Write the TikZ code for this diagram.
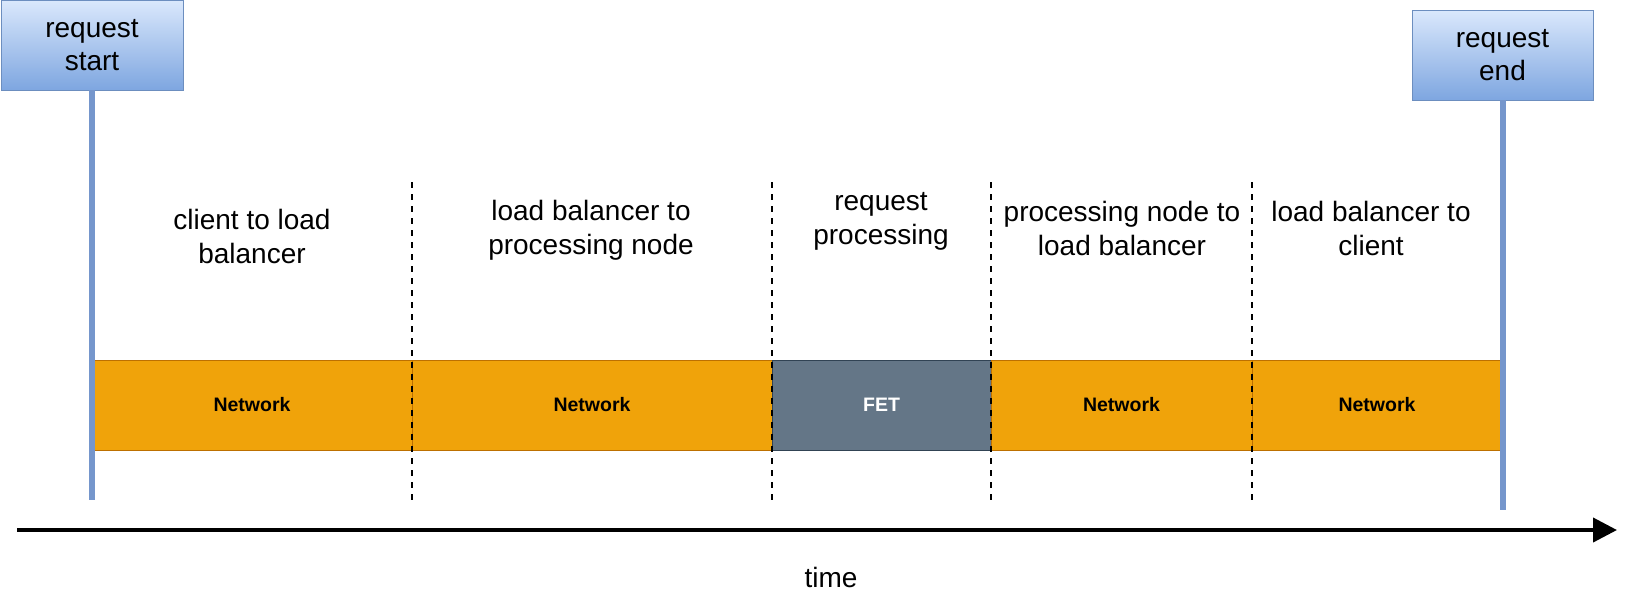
\documentclass[tikz,border=0pt]{standalone}
\usepackage{fontspec}
\setmainfont{Liberation Sans}
\usetikzlibrary{positioning,arrows.meta}
\definecolor{stamptop}{HTML}{DAE8FC}
\definecolor{stampbottom}{HTML}{7EA6E0}
\definecolor{stampedge}{HTML}{6C8EBF}
\definecolor{pinblue}{RGB}{117,150,204}
\definecolor{netorange}{HTML}{F0A30A}
\definecolor{netedge}{HTML}{BD7000}
\definecolor{fetgray}{HTML}{647687}
\definecolor{fetedge}{HTML}{314354}

\begin{document}
\begin{tikzpicture}[x=1pt,y=-1pt,
    every node/.style={font=\fontsize{28}{33.6}\selectfont, align=center, inner sep=0pt, outer sep=0pt},
    stamp/.style={draw=stampedge, line width=1pt, top color=stamptop, bottom color=stampbottom, minimum width=182pt, minimum height=90pt},
    seg/.style={draw=netedge, fill=netorange, line width=1pt, minimum height=90pt, font=\fontsize{19.5}{23}\selectfont\bfseries},
    divider/.style={dash pattern=on 6pt off 6pt, line width=1.8pt},
    pin/.style={pinblue, line width=6pt}]
  \useasboundingbox (0,0) rectangle (1635,598);

  % the band of stages
  \node[seg, minimum width=320pt] (net1) at (252,405) {Network};
  \node[seg, minimum width=360pt] (net2) at (592,405) {Network};
  \node[seg, fill=fetgray, draw=fetedge, text=white, minimum width=219pt] (fet) at (881.5,405) {FET};
  \node[seg, minimum width=261pt] (net3) at (1121.5,405) {Network};
  \node[seg, minimum width=250pt] (net4) at (1377,405) {Network};

  % stage borders
  \foreach \x [count=\i] in {412,772,991,1252} {
    \coordinate (dtop\i) at (\x,182);
    \coordinate (dbot\i) at (\x,500);
    \draw[divider] (dtop\i) -- (dbot\i);
  }

  % stage labels
  \node (ph1) at (252,236.5) {client to load\\balancer};
  \node (ph2) at (591,230) {load balancer to\\processing node};
  \node (ph3) at (881,221.5) {request\\processing};
  \node (ph4) at (1122,228.5) {processing node to\\load balancer};
  \node (ph5) at (1371,228.5) {load balancer to\\client};

  % start and end of the request
  \node[stamp] (start) at (92,45) {request\\start};
  \node[stamp, minimum width=181pt] (end) at (1502.5,55) {request\\end};
  \coordinate (startpin) at (92,500);
  \coordinate (endpin) at (1502.5,510);
  \draw[pin] (start.south) -- (startpin);
  \draw[pin] (end.south) -- (endpin);

  % time axis
  \coordinate (t0) at (17,530);
  \coordinate (t1) at (1617,530);
  \draw[line width=4pt, -{Triangle[length=24pt,width=24pt]}] (t0) -- (t1);
  \node (time) at (831,577) {time};
\end{tikzpicture}
\end{document}
